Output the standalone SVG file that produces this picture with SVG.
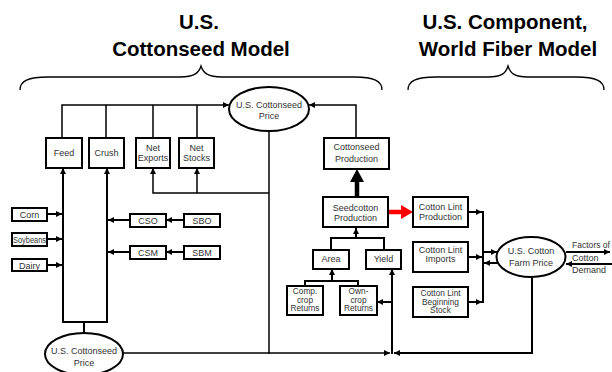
<svg xmlns="http://www.w3.org/2000/svg" width="612" height="372" viewBox="0 0 612 372">
<defs>
<style>
.box{fill:#fff;stroke:#000;stroke-width:2}
.ell{fill:#fff;stroke:#000;stroke-width:2}
.t{font-family:"Liberation Sans Narrow","Liberation Sans",Arial,sans-serif;font-size:9px;fill:#333;text-anchor:middle}
.tt{font-family:"Liberation Sans Narrow","Liberation Sans",Arial,sans-serif;font-size:8.3px;fill:#333;text-anchor:middle}
.ts{font-family:"Liberation Sans Narrow","Liberation Sans",Arial,sans-serif;font-size:8.5px;fill:#333;text-anchor:middle}
.ttl{font-family:"Liberation Sans",Arial,sans-serif;font-size:20.5px;font-weight:bold;fill:#000;text-anchor:middle}
.ln{fill:none;stroke:#000;stroke-width:1.5}
.lt{fill:none;stroke:#000;stroke-width:2}
.br{fill:none;stroke:#000;stroke-width:1.3}
</style>
<marker id="ah" viewBox="0 0 10 10" refX="10" refY="5" markerWidth="6" markerHeight="6" markerUnits="userSpaceOnUse" orient="auto">
<path d="M0,0 L10,5 L0,10 z" fill="#000"/>
</marker>
</defs>
<g id="titles">
<text class="ttl" x="199" y="29">U.S.</text>
<text class="ttl" x="201" y="56">Cottonseed Model</text>
<text class="ttl" x="505" y="29">U.S. Component,</text>
<text class="ttl" x="508" y="56">World Fiber Model</text>
<path class="br" d="M20,90 C20,81 28,77 48,77 L180,77 C194,77 199,73 201,66 C203,73 208,77 222,77 L354,77 C374,77 382,81 382,90"/>
<path class="br" d="M408,90 C408,81 416,77 436,77 L488,77 C502,77 506,73 508,66 C510,73 514,77 528,77 L576,77 C596,77 604,81 604,90"/>
</g>
<g id="connectors">
<path class="ln" d="M62,138 V105 H229" marker-end="url(#ah)"/>
<path class="ln" d="M106,138 V105 M153,138 V105 M197,138 V105"/>
<path class="ln" d="M356,138 V105 H309" marker-end="url(#ah)"/>
<path class="ln" d="M269,131 V354"/>
<path class="ln" d="M269,193 H153 V168" marker-end="url(#ah)"/>
<path class="ln" d="M197,193 V168" marker-end="url(#ah)"/>
<path class="lt" d="M84,332 V322 M62,322 H108"/>
<path class="lt" d="M63,322 V168" marker-end="url(#ah)"/>
<path class="lt" d="M107,322 V168" marker-end="url(#ah)"/>
<path class="lt" d="M47,214 H62" marker-end="url(#ah)"/>
<path class="lt" d="M47,239 H62" marker-end="url(#ah)"/>
<path class="lt" d="M47,265 H62" marker-end="url(#ah)"/>
<path class="lt" d="M130,220 H108" marker-end="url(#ah)"/>
<path class="lt" d="M184,220 H166" marker-end="url(#ah)"/>
<path class="lt" d="M130,252 H108" marker-end="url(#ah)"/>
<path class="lt" d="M184,252 H166" marker-end="url(#ah)"/>
<path class="ln" d="M123,353 H390" marker-end="url(#ah)"/>
<path class="lt" d="M532,277 V353 H394" marker-end="url(#ah)"/>
<path class="lt" d="M392,354 V269" marker-end="url(#ah)"/>
<path class="lt" d="M392,302 H377" marker-end="url(#ah)"/>
<path class="lt" d="M331,250 V238 H384 V250"/>
<path class="lt" d="M356,238 V228" marker-end="url(#ah)"/>
<path class="lt" d="M305,286 V281 H358 V286"/>
<path class="lt" d="M332,281 V269" marker-end="url(#ah)"/>
<path class="lt" d="M468,212 H482" marker-end="url(#ah)"/>
<path class="lt" d="M468,257 H482" marker-end="url(#ah)"/>
<path class="lt" d="M468,302 H482" marker-end="url(#ah)"/>
<path class="lt" d="M483,211 V303"/>
<path class="lt" d="M483,252 H497" marker-end="url(#ah)"/>
<path class="lt" d="M498,263 H484" marker-end="url(#ah)"/>
<path class="lt" d="M566,252 H610" marker-end="url(#ah)"/>
<path class="lt" d="M612,264 H566" marker-end="url(#ah)"/>
<path d="M357,197 V180" stroke="#000" stroke-width="4.5" fill="none"/>
<path d="M350,182 L364,182 L357,169 z" fill="#000"/>
<path d="M388,212 H403" stroke="#f00" stroke-width="4.5" fill="none"/>
<path d="M401,205 L401,219 L413,212 z" fill="#f00"/>
</g>
<g id="cottonseed-price-top">
<ellipse class="ell" cx="269" cy="109" rx="40" ry="22"/>
<text class="t" x="269" y="108">U.S. Cottonseed</text>
<text class="t" x="269" y="119">Price</text>
</g>
<g id="feed"><rect class="box" x="46" y="138" width="36" height="30"/><text class="t" x="64" y="156">Feed</text></g>
<g id="crush"><rect class="box" x="89" y="138" width="35" height="30"/><text class="t" x="106.5" y="156">Crush</text></g>
<g id="net-exports"><rect class="box" x="136" y="138" width="34" height="30"/><text class="t" x="153" y="151">Net</text><text class="t" x="153" y="161">Exports</text></g>
<g id="net-stocks"><rect class="box" x="179" y="138" width="35" height="30"/><text class="t" x="196.5" y="151">Net</text><text class="t" x="196.5" y="161">Stocks</text></g>
<g id="cottonseed-production"><rect class="box" x="324" y="138" width="65" height="31"/><text class="t" x="356.5" y="150">Cottonseed</text><text class="t" x="356.5" y="162">Production</text></g>
<g id="seedcotton-production"><rect class="box" x="323" y="197" width="65" height="30"/><text class="t" x="355.5" y="211">Seedcotton</text><text class="t" x="355.5" y="221">Production</text></g>
<g id="area"><rect class="box" x="313" y="250" width="36" height="19"/><text class="t" x="331" y="262">Area</text></g>
<g id="yield"><rect class="box" x="366" y="250" width="35" height="19"/><text class="t" x="383.5" y="262">Yield</text></g>
<g id="comp-crop"><rect class="box" x="287" y="286" width="36" height="29"/><text class="tt" x="305" y="294">Comp.</text><text class="tt" x="305" y="302.5">crop</text><text class="tt" x="305" y="311">Returns</text></g>
<g id="own-crop"><rect class="box" x="340" y="286" width="37" height="29"/><text class="tt" x="358.5" y="294">Own-</text><text class="tt" x="358.5" y="302.5">crop</text><text class="tt" x="358.5" y="311">Returns</text></g>
<g id="lint-production"><rect class="box" x="413" y="197" width="55" height="30"/><text class="t" x="440.5" y="210">Cotton Lint</text><text class="t" x="440.5" y="220">Production</text></g>
<g id="lint-imports"><rect class="box" x="413" y="242" width="55" height="30"/><text class="t" x="440.5" y="253">Cotton Lint</text><text class="t" x="440.5" y="262">Imports</text></g>
<g id="lint-stock"><rect class="box" x="413" y="287" width="55" height="30"/><text class="tt" x="440.5" y="296">Cotton Lint</text><text class="tt" x="440.5" y="304.5">Beginning</text><text class="tt" x="440.5" y="313">Stock</text></g>
<g id="farm-price"><ellipse class="ell" cx="531" cy="257" rx="34.5" ry="20"/><text class="t" x="531" y="254">U.S. Cotton</text><text class="t" x="531" y="266">Farm Price</text></g>
<g id="factors"><text class="t" x="572" y="248" style="text-anchor:start" textLength="38" lengthAdjust="spacingAndGlyphs">Factors of</text><text class="t" x="572" y="261" style="text-anchor:start">Cotton</text><text class="t" x="572" y="273" style="text-anchor:start">Demand</text></g>
<g id="corn"><rect class="box" x="12" y="208" width="35" height="13"/><text class="t" x="29.5" y="218">Corn</text></g>
<g id="soybeans"><rect class="box" x="12" y="233" width="35" height="13"/><text class="ts" x="29.5" y="243" textLength="33" lengthAdjust="spacingAndGlyphs">Soybeans</text></g>
<g id="dairy"><rect class="box" x="12" y="259" width="35" height="12"/><text class="t" x="29.5" y="269">Dairy</text></g>
<g id="cso"><rect class="box" x="130" y="214" width="36" height="13"/><text class="t" x="148" y="224">CSO</text></g>
<g id="sbo"><rect class="box" x="184" y="214" width="36" height="13"/><text class="t" x="202" y="224">SBO</text></g>
<g id="csm"><rect class="box" x="130" y="246" width="36" height="13"/><text class="t" x="148" y="256">CSM</text></g>
<g id="sbm"><rect class="box" x="184" y="246" width="36" height="13"/><text class="t" x="202" y="256">SBM</text></g>
<g id="cottonseed-price-bottom"><ellipse class="ell" cx="84" cy="354" rx="39" ry="21"/><text class="t" x="84" y="354">U.S. Cottonseed</text><text class="t" x="84" y="366">Price</text></g>
</svg>
